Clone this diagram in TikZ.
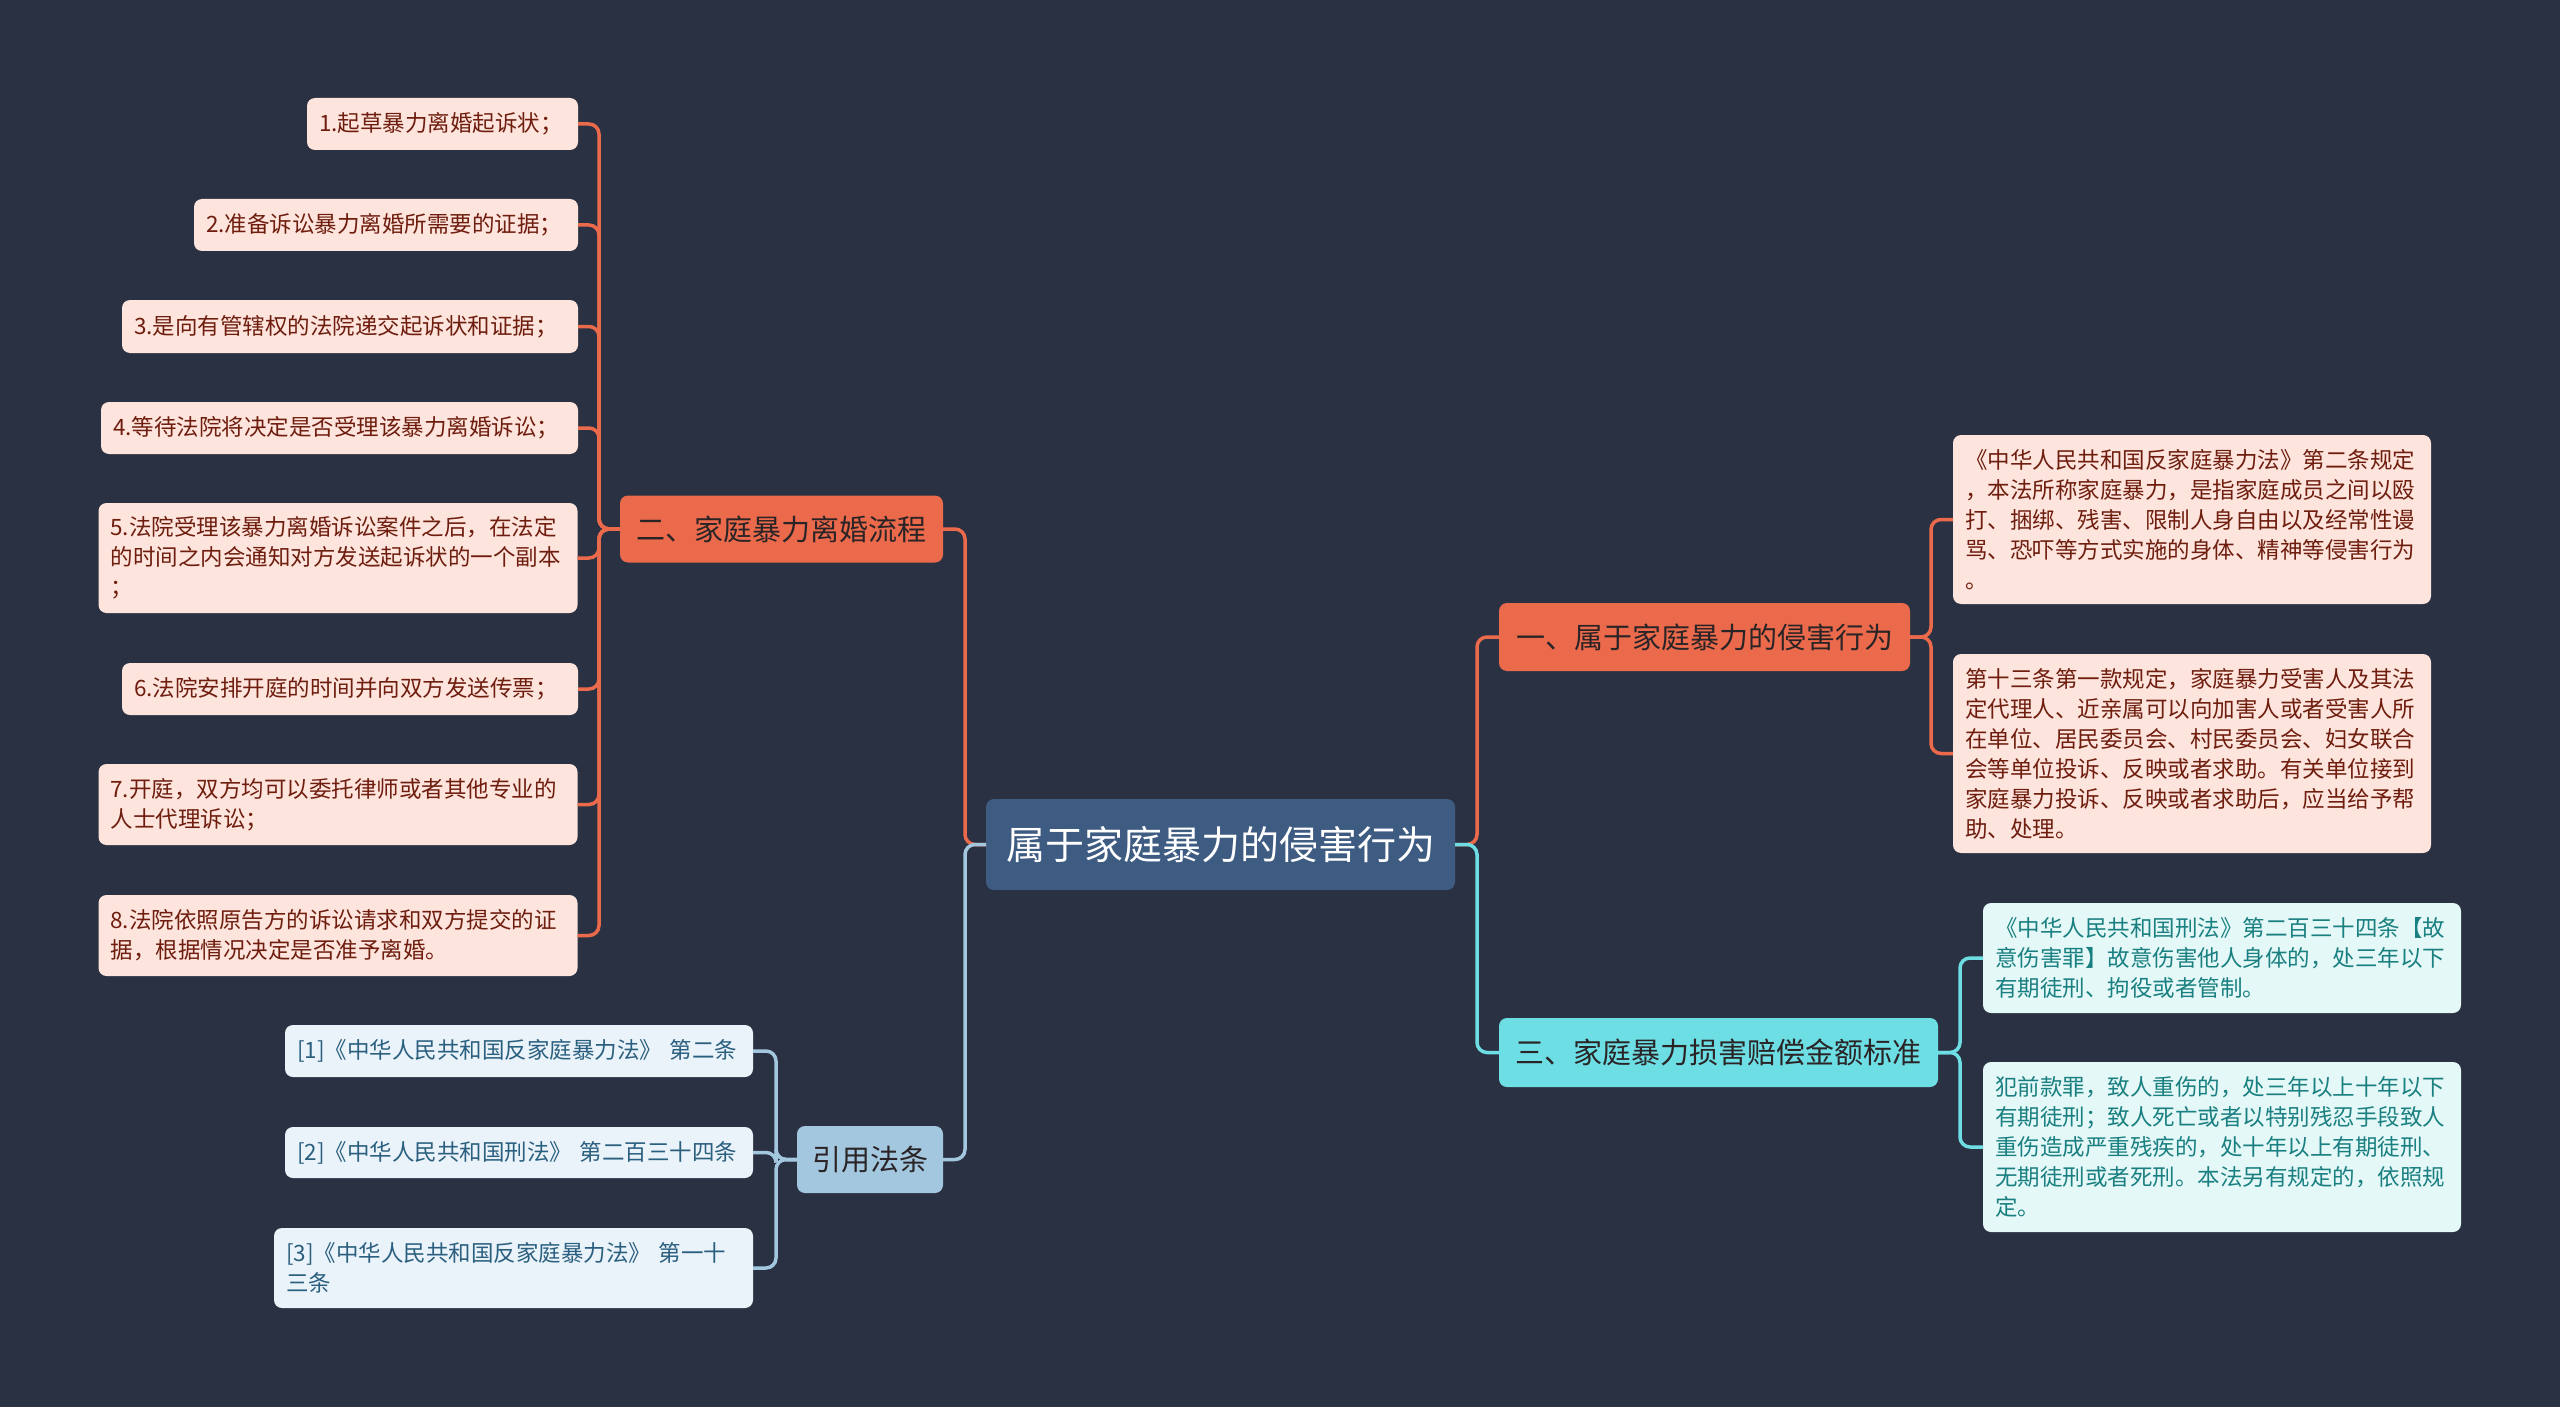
\documentclass[tikz,border=0pt]{standalone}
\usepackage{fontspec}
\newfontfamily\cjk{Noto Sans CJK SC}
\usetikzlibrary{calc}
\definecolor{bg}{HTML}{2A3142}
\definecolor{coral}{HTML}{EC6A4C}
\definecolor{cyanb}{HTML}{6DDFE4}
\definecolor{blueb}{HTML}{A3C7DE}
\definecolor{centerfill}{HTML}{3E5B82}
\definecolor{leafAfill}{HTML}{FDE4DC}
\definecolor{leafAtext}{HTML}{6E1D0E}
\definecolor{leafCfill}{HTML}{E4F8F8}
\definecolor{leafCtext}{HTML}{1A7F80}
\definecolor{leafBfill}{HTML}{EAF3F9}
\definecolor{leafBtext}{HTML}{2B5F7F}
\definecolor{branchtext}{HTML}{2A2426}
\begin{document}
\begin{tikzpicture}[x=1pt,y=-1pt,
  box/.style={rounded corners=8pt, inner sep=0pt, outer sep=0pt},
  leafbase/.style={box, align=left, inner xsep=12pt, font=\cjk\fontsize{22.5}{30}\selectfont},
  leafA/.style={leafbase, fill=leafAfill, text=leafAtext},
  leafC/.style={leafbase, fill=leafCfill, text=leafCtext},
  leafB/.style={leafbase, fill=leafBfill, text=leafBtext},
  branch/.style={box, align=center, font=\cjk\fontsize{29}{34}\selectfont, text=branchtext},
  centerbox/.style={box, align=center, fill=centerfill, text=white, font=\cjk\fontsize{39}{44}\selectfont},
  conn/.style={line width=3.5pt, rounded corners=10pt},
  cA/.style={conn, draw=coral},
  cC/.style={conn, draw=cyanb},
  cB/.style={conn, draw=blueb}]
\fill[bg] (0,0) rectangle (2560,1407);
\useasboundingbox (0,0) rectangle (2560,1407);

% connectors first
\coordinate (dummy) at (0,0);

% center
\node[centerbox, minimum width=469pt, minimum height=91pt] (c) at (1220.5,844.5) {属于家庭暴力的侵害行为};

% branches
\node[branch, fill=coral, minimum width=323pt, minimum height=67pt] (b2) at (781.5,529) {二、家庭暴力离婚流程};
\node[branch, fill=coral, minimum width=411pt, minimum height=68pt] (b1) at (1704.5,637) {一、属于家庭暴力的侵害行为};
\node[branch, fill=cyanb, minimum width=439pt, minimum height=69pt] (b3) at (1718.5,1052.5) {三、家庭暴力损害赔偿金额标准};
\node[branch, fill=blueb, minimum width=146pt, minimum height=67pt] (b4) at (870,1159.5) {引用法条};

% leaves of branch 2
\node[leafA, text width=247pt, minimum height=52pt] (L1) at (442.5,124) {1.起草暴力离婚起诉状；};
\node[leafA, text width=360pt, minimum height=52pt] (L2) at (386,225) {2.准备诉讼暴力离婚所需要的证据；};
\node[leafA, text width=432pt, minimum height=53pt] (L3) at (350,326.5) {3.是向有管辖权的法院递交起诉状和证据；};
\node[leafA, text width=453pt, minimum height=52pt] (L4) at (339.5,428) {4.等待法院将决定是否受理该暴力离婚诉讼；};
\node[leafA, text width=455pt, minimum height=110pt] (L5) at (338,558) {5.法院受理该暴力离婚诉讼案件之后，在法定\\的时间之内会通知对方发送起诉状的一个副本\\；};
\node[leafA, text width=432pt, minimum height=52pt] (L6) at (350,689) {6.法院安排开庭的时间并向双方发送传票；};
\node[leafA, text width=455pt, minimum height=81pt] (L7) at (338,804.5) {7.开庭，双方均可以委托律师或者其他专业的\\人士代理诉讼；};
\node[leafA, text width=455pt, minimum height=81pt] (L8) at (338,935.5) {8.法院依照原告方的诉讼请求和双方提交的证\\据，根据情况决定是否准予离婚。};

% leaves of branch 1
\node[leafA, text width=454pt, minimum height=169pt] (R1) at (2192,519.5) {《中华人民共和国反家庭暴力法》第二条规定\\，本法所称家庭暴力，是指家庭成员之间以殴\\打、捆绑、残害、限制人身自由以及经常性谩\\骂、恐吓等方式实施的身体、精神等侵害行为\\。};
\node[leafA, text width=454pt, minimum height=199pt] (R2) at (2192,753.5) {第十三条第一款规定，家庭暴力受害人及其法\\定代理人、近亲属可以向加害人或者受害人所\\在单位、居民委员会、村民委员会、妇女联合\\会等单位投诉、反映或者求助。有关单位接到\\家庭暴力投诉、反映或者求助后，应当给予帮\\助、处理。};

% leaves of branch 3
\node[leafC, text width=454pt, minimum height=110pt] (T1) at (2222,958) {《中华人民共和国刑法》第二百三十四条【故\\意伤害罪】故意伤害他人身体的，处三年以下\\有期徒刑、拘役或者管制。};
\node[leafC, text width=454pt, minimum height=170pt] (T2) at (2222,1147) {犯前款罪，致人重伤的，处三年以上十年以下\\有期徒刑；致人死亡或者以特别残忍手段致人\\重伤造成严重残疾的，处十年以上有期徒刑、\\无期徒刑或者死刑。本法另有规定的，依照规\\定。};

% leaves of references
\node[leafB, text width=444pt, minimum height=52pt] (C1) at (519,1051) {[1]《中华人民共和国反家庭暴力法》 第二条};
\node[leafB, text width=444pt, minimum height=51pt] (C2) at (519,1152.5) {[2]《中华人民共和国刑法》 第二百三十四条};
\node[leafB, text width=455pt, minimum height=80pt] (C3) at (513.5,1268) {[3]《中华人民共和国反家庭暴力法》 第一十\\三条};

% connectors
\begin{scope}[on background layer/.style={}]
\draw[cA] (c.west) -- ++(-21,0) |- (b2.east);
\draw[cB] (c.west) -- ++(-21,0) |- (b4.east);
\draw[cA] (c.east) -- ++(22,0) |- (b1.west);
\draw[cC] (c.east) -- ++(22,0) |- (b3.west);
\foreach \n in {L1,L2,L3,L4,L5,L6,L7,L8}
  \draw[cA] (b2.west) -- ++(-21,0) |- (\n.east);
\foreach \n in {R1,R2}
  \draw[cA] (b1.east) -- ++(21,0) |- (\n.west);
\foreach \n in {T1,T2}
  \draw[cC] (b3.east) -- ++(22,0) |- (\n.west);
\foreach \n in {C1,C2,C3}
  \draw[cB] (b4.west) -- ++(-21,0) |- (\n.east);
\end{scope}
\end{tikzpicture}
\end{document}
